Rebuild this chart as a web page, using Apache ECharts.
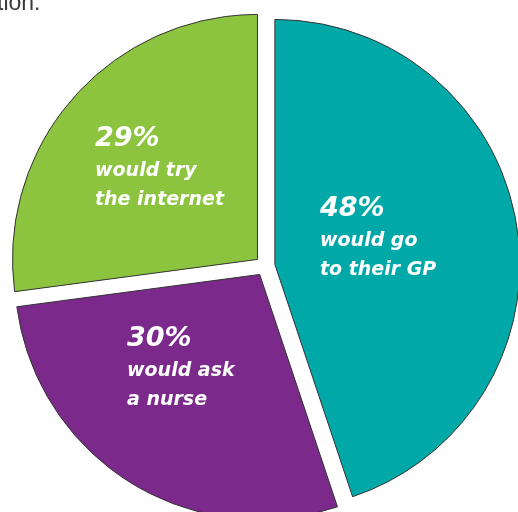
<!DOCTYPE html>
<html>
<head>
<meta charset="utf-8">
<script src="https://cdn.jsdelivr.net/npm/echarts@6/dist/echarts.min.js"></script>
<style>
html,body{margin:0;padding:0;background:#fff;}
#chart{width:518px;height:512px;}
</style>
</head>
<body>
<div id="chart"></div>
<script>
// Data
var categories = ['would go\nto their GP', 'would ask\na nurse', 'would try\nthe internet'];
var values = [48, 30, 29];
var colors = ['#00A9A8', '#7B2A8B', '#8CC43F'];
var labelPos = [[320, 191], [127, 321], [95, 121]];

var chart = echarts.init(document.getElementById('chart'), null, {renderer: 'canvas'});
var font = '"DejaVu Sans", "Liberation Sans", Arial, sans-serif';

var data = categories.map(function (c, i) {
  return {
    name: c,
    value: values[i],
    selected: true,
    itemStyle: {color: colors[i]},
    select: {itemStyle: {color: colors[i], borderColor: '#333', borderWidth: 1}}
  };
});

var rich = {
  a: {fontSize: 27, fontWeight: 'bold', fontStyle: 'italic', fill: '#fff', fontFamily: font, lineHeight: 36, align: 'left'},
  b: {fontSize: 19, fontWeight: 'bold', fontStyle: 'italic', fill: '#fff', fontFamily: font, lineHeight: 29, align: 'left'}
};

var labelGraphics = categories.map(function (c, i) {
  var lines = c.split('\n');
  var txt = '{a|' + values[i] + '%}\n' + lines.map(function (l) { return '{b|' + l + '}'; }).join('\n');
  return {
    type: 'text',
    x: labelPos[i][0],
    y: labelPos[i][1],
    z: 100,
    silent: true,
    style: {
      text: txt,
      rich: rich,
      fill: '#fff',
      font: 'italic bold 19px ' + font,
      align: 'left',
      verticalAlign: 'top'
    }
  };
});

chart.setOption({
  animation: false,
  backgroundColor: '#ffffff',
  graphic: [{
    type: 'text',
    left: -3,
    top: -8,
    style: {text: 'tion:', fontSize: 23, fontFamily: '"Liberation Sans", Arial, sans-serif', fill: '#3a3a3a'}
  }].concat(labelGraphics),
  series: [{
    type: 'pie',
    center: [265, 266],
    radius: [0, 245],
    startAngle: 90,
    clockwise: true,
    selectedMode: 'multiple',
    selectedOffset: 10,
    avoidLabelOverlap: false,
    emphasis: {disabled: true},
    itemStyle: {borderColor: '#333', borderWidth: 1},
    label: {show: false},
    labelLine: {show: false},
    data: data
  }]
});
</script>
</body>
</html>
